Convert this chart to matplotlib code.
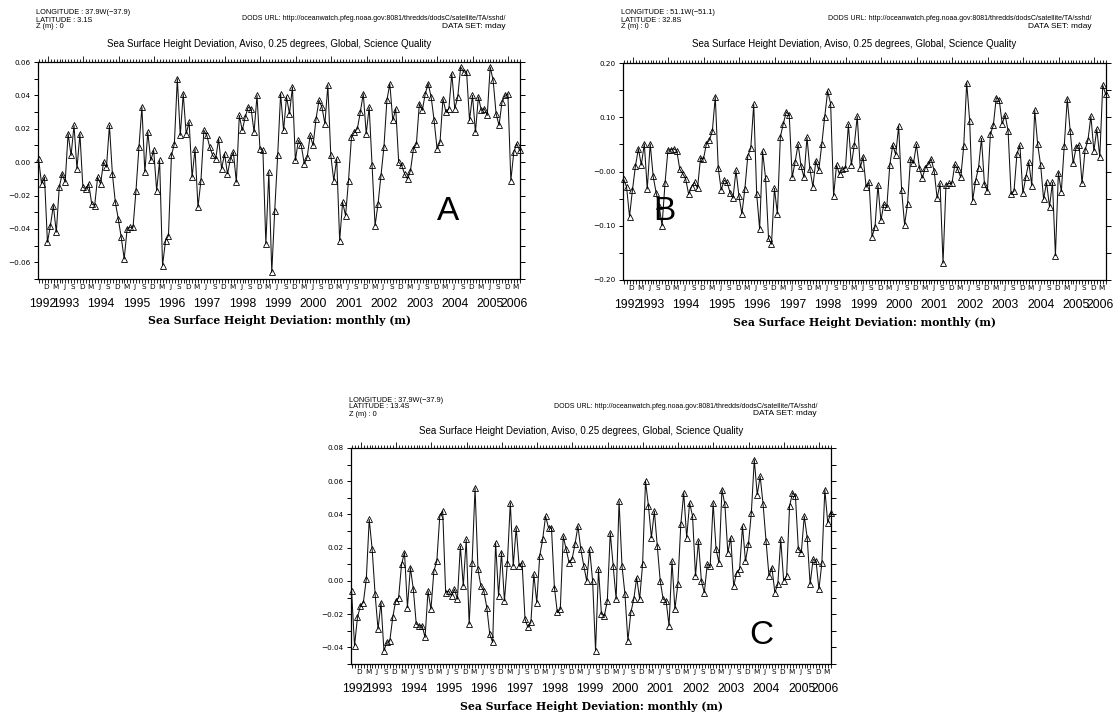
import matplotlib
matplotlib.use('Agg')
import matplotlib.pyplot as plt
import numpy as np
from matplotlib import font_manager as fm

# ---------------- data (monthly, Oct 1992 .. May 2006) ----------------
start_year, start_month = 1992, 10

ssh_a = [0.002, -0.013, -0.009, -0.048, -0.038, -0.026, -0.042, -0.015, -0.007, -0.012,
         0.017, 0.004, 0.022, -0.004, 0.017, -0.015, -0.016, -0.013, -0.025, -0.026,
         -0.009, -0.013, 0.000, -0.003, 0.022, -0.007, -0.024, -0.034, -0.045, -0.058,
         -0.040, -0.039, -0.039, -0.017, 0.009, 0.033, -0.006, 0.018, 0.001, 0.007,
         -0.017, 0.001, -0.062, -0.047, -0.044, 0.004, 0.011, 0.050, 0.016, 0.041,
         0.017, 0.024, -0.009, 0.008, -0.027, -0.011, 0.019, 0.016, 0.009, 0.004,
         0.002, 0.014, -0.004, 0.005, -0.007, 0.002, 0.006, -0.012, 0.028, 0.019,
         0.027, 0.033, 0.032, 0.018, 0.040, 0.008, 0.007, -0.049, -0.006, -0.066,
         -0.029, 0.004, 0.041, 0.019, 0.039, 0.029, 0.045, 0.001, 0.013, 0.010,
         -0.001, 0.003, 0.016, 0.010, 0.026, 0.037, 0.033, 0.023, 0.046, 0.004,
         -0.011, 0.002, -0.047, -0.024, -0.032, -0.011, 0.015, 0.018, 0.020, 0.030,
         0.041, 0.017, 0.033, -0.002, -0.038, -0.025, -0.008, 0.009, 0.037, 0.047,
         0.025, 0.032, 0.000, -0.002, -0.007, -0.010, -0.005, 0.008, 0.011, 0.035,
         0.031, 0.041, 0.047, 0.039, 0.025, 0.008, 0.012, 0.038, 0.030, 0.032,
         0.053, 0.032, 0.039, 0.057, 0.054, 0.054, 0.025, 0.040, 0.018, 0.039,
         0.031, 0.032, 0.028, 0.057, 0.049, 0.029, 0.022, 0.036, 0.040, 0.041,
         -0.011, 0.006, 0.011, 0.007]

ssh_b = [-0.014, -0.028, -0.083, -0.034, 0.010, 0.042, 0.012, 0.051, -0.032, 0.051,
         -0.009, -0.039, -0.063, -0.100, -0.022, 0.040, 0.040, 0.042, 0.038, 0.004,
         -0.004, -0.014, -0.042, -0.028, -0.020, -0.031, 0.025, 0.023, 0.051, 0.058,
         0.074, 0.138, 0.007, -0.034, -0.016, -0.020, -0.039, -0.049, 0.002, -0.045,
         -0.078, -0.032, 0.029, 0.043, 0.124, -0.042, -0.106, 0.037, -0.012, -0.123,
         -0.134, -0.031, -0.078, 0.064, 0.088, 0.110, 0.104, -0.011, 0.018, 0.050,
         0.010, -0.011, 0.063, 0.004, -0.028, 0.020, 0.002, 0.050, 0.101, 0.148,
         0.125, -0.045, 0.012, -0.005, 0.005, 0.006, 0.087, 0.012, 0.049, 0.102,
         0.007, 0.027, -0.029, -0.020, -0.120, -0.102, -0.025, -0.090, -0.060, -0.065,
         0.012, 0.049, 0.031, 0.084, -0.034, -0.098, -0.060, 0.023, 0.015, 0.050,
         0.007, -0.012, 0.007, 0.013, 0.023, 0.001, -0.049, -0.022, -0.169, -0.025,
         -0.022, -0.022, 0.013, 0.004, -0.011, 0.047, 0.164, 0.094, -0.054, -0.017,
         0.007, 0.061, -0.023, -0.036, 0.069, 0.085, 0.136, 0.132, 0.088, 0.104,
         0.075, -0.042, -0.036, 0.033, 0.048, -0.040, -0.010, 0.017, -0.026, 0.113,
         0.050, 0.012, -0.051, -0.020, -0.065, -0.020, -0.155, -0.002, -0.037, 0.047,
         0.134, 0.074, 0.015, 0.045, 0.049, -0.022, 0.039, 0.058, 0.102, 0.038,
         0.078, 0.027, 0.159, 0.142]

ssh_c = [-0.006, -0.039, -0.022, -0.015, -0.013, 0.001, 0.037, 0.019, -0.008, -0.029,
         -0.013, -0.042, -0.037, -0.036, -0.022, -0.012, -0.010, 0.010, 0.017, -0.016,
         0.008, -0.005, -0.026, -0.027, -0.027, -0.034, -0.006, -0.017, 0.006, 0.012,
         0.039, 0.042, -0.007, -0.006, -0.009, -0.005, -0.011, 0.021, -0.003, 0.025,
         -0.026, 0.011, 0.056, 0.007, -0.003, -0.006, -0.016, -0.032, -0.037, 0.023,
         -0.009, 0.017, -0.012, 0.011, 0.047, 0.009, 0.032, 0.009, 0.011, -0.023,
         -0.028, -0.025, 0.004, -0.013, 0.015, 0.025, 0.039, 0.032, 0.032, -0.004,
         -0.019, -0.017, 0.027, 0.019, 0.011, 0.013, 0.022, 0.033, 0.019, 0.009,
         0.000, 0.019, 0.000, -0.042, 0.007, -0.020, -0.021, -0.012, 0.029, 0.009,
         -0.011, 0.048, 0.009, -0.008, -0.036, -0.019, -0.011, 0.002, -0.011, 0.010,
         0.060, 0.045, 0.026, 0.042, 0.021, 0.000, -0.011, -0.012, -0.027, 0.012,
         -0.017, -0.002, 0.034, 0.053, 0.026, 0.047, 0.039, 0.003, 0.024, 0.000,
         -0.007, 0.010, 0.009, 0.047, 0.019, 0.011, 0.055, 0.046, 0.017, 0.026,
         -0.003, 0.005, 0.007, 0.033, 0.012, 0.022, 0.041, 0.073, 0.052, 0.063,
         0.046, 0.024, 0.003, 0.008, -0.007, -0.002, 0.025, 0.000, 0.003, 0.045,
         0.053, 0.051, 0.019, 0.017, 0.039, 0.026, -0.002, 0.013, 0.012, -0.005,
         0.011, 0.055, 0.035, 0.041]

month_letters = {12: 'D', 3: 'M', 6: 'J', 9: 'S'}
years = list(range(1992, 2007))

# ---------------- fonts ----------------
names = {f.name for f in fm.fontManager.ttflist}
NARROW = 'Liberation Sans Narrow' if 'Liberation Sans Narrow' in names else 'Liberation Sans'
SANS = 'Liberation Sans'

W, H = 1114, 712
fig = plt.figure(figsize=(W / 100, H / 100), dpi=100)
fig.patch.set_facecolor('white')

PT = 0.72  # points per pixel at 100 dpi


def ftext(x, y, s, **kw):
    fig.text(x / W, 1 - y / H, s, **kw)


def panel(box, vals, ylim, major_step, minor_step, lon, lat, letter, letter_xy, hdr_y):
    l, t, r, b = box
    ax = fig.add_axes([l / W, 1 - b / H, (r - l) / W, (b - t) / H])
    n = len(vals)
    x = np.arange(n)
    ax.plot(x, vals, color='#111111', lw=0.75, marker='^', ms=4.0,
            mfc='none', mec='black', mew=0.6, clip_on=False, zorder=3)
    x0, x1 = -0.2, n - 1 + 0.1
    ax.set_xlim(x0, x1)
    ax.set_ylim(*ylim)
    for s in ax.spines.values():
        s.set_linewidth(0.9)

    # y ticks
    majors = [v for v in np.round(np.arange(-1, 1, major_step), 4) if ylim[0] - 1e-9 <= v <= ylim[1] + 1e-9]
    minors = [v for v in np.round(np.arange(-1, 1, minor_step), 4) if ylim[0] - 1e-9 <= v <= ylim[1] + 1e-9]
    ax.set_yticks(majors)
    ax.set_yticks(minors, minor=True)
    ax.set_yticklabels([('%.2f' % v).replace('-', '\u2212') for v in majors],
                       fontsize=5.2, family='DejaVu Sans')
    ax.tick_params(axis='y', which='both', direction='out', length=4.5 * PT,
                   width=0.7, left=True, right=True, labelright=False, pad=2)

    # x ticks (month boundaries)
    bounds = np.arange(-1, n + 1) + 0.1
    bounds = bounds[(bounds >= x0) & (bounds <= x1)]
    ax.set_xticks(bounds)
    ax.set_xticklabels([])
    ax.tick_params(axis='x', which='major', direction='out', length=3.5 * PT, width=0.6,
                   bottom=True, top=False)
    sec = ax.secondary_xaxis('top')
    jan = []
    mon = []
    for bx in bounds:
        m_index = int(round(bx - 0.1))
        month = (start_month - 1 + m_index) % 12 + 1
        (jan if month == 1 else mon).append(bx)
    sec.set_xticks(jan)
    sec.set_xticks(mon, minor=True)
    sec.set_xticklabels([])
    sec.tick_params(which='major', direction='out', length=6 * PT, width=0.6)
    sec.tick_params(which='minor', direction='out', length=3 * PT, width=0.6)
    sec.spines['top'].set_visible(False)

    hpx = b - t
    # month letters
    for m in range(n):
        month = (start_month - 1 + m) % 12 + 1
        if month in month_letters:
            xm = m + 0.6
            if x0 <= xm <= x1:
                ax.text(xm, -8 / hpx, month_letters[month], transform=ax.get_xaxis_transform(),
                        ha='center', va='center', fontsize=5.2, family='DejaVu Sans')
    # year labels
    for yr in years:
        ji = (yr - start_year) * 12 + (1 - start_month)
        a, c = max(ji + 0.1, x0), min(ji + 12.1, x1)
        if c <= a:
            continue
        ax.text((a + c) / 2, -25 / hpx, str(yr), transform=ax.get_xaxis_transform(),
                ha='center', va='center', fontsize=8.8, family=NARROW)
    # x label
    ax.text(0.5, -42 / hpx, 'Sea Surface Height Deviation: monthly (m)', transform=ax.transAxes,
            ha='center', va='center', fontsize=7.8, family='DejaVu Serif', fontweight='bold')

    # header
    ftext(l - 2, hdr_y, 'LONGITUDE : ' + lon, fontsize=5.3, family=NARROW, ha='left', va='center')
    ftext(l - 2, hdr_y + 7, 'LATITUDE : ' + lat, fontsize=5.3, family=NARROW, ha='left', va='center')
    ftext(l - 2, hdr_y + 14, 'Z (m) : 0', fontsize=5.3, family=NARROW, ha='left', va='center')
    ftext(r - 14, hdr_y + 6,
          'DODS URL: http://oceanwatch.pfeg.noaa.gov:8081/thredds/dodsC/satellite/TA/sshd/',
          fontsize=5.0, family=NARROW, ha='right', va='center')
    ftext(r - 14, hdr_y + 13.5, 'DATA SET: mday', fontsize=6.0, family=NARROW, ha='right', va='center')
    ftext((l + r) / 2 - 10, hdr_y + 31,
          'Sea Surface Height Deviation, Aviso, 0.25 degrees, Global, Science Quality',
          fontsize=7, family=NARROW, ha='center', va='center')

    ftext(letter_xy[0], letter_xy[1], letter, fontsize=24, family=SANS, ha='center', va='center')
    return ax


panel((38, 62, 520, 279), ssh_a, (-0.07, 0.06), 0.02, 0.01,
      '37.9W(\u221237.9)', '3.1S', 'A', (448, 211), 13)
panel((623, 63, 1106, 280), ssh_b, (-0.20, 0.20), 0.10, 0.05,
      '51.1W(\u221251.1)', '32.8S', 'B', (664, 211), 13)
panel((351, 448, 831, 664), ssh_c, (-0.05, 0.08), 0.02, 0.01,
      '37.9W(\u221237.9)', '13.4S', 'C', (761, 635), 400)

fig.savefig('out.png', dpi=100, facecolor='white')
